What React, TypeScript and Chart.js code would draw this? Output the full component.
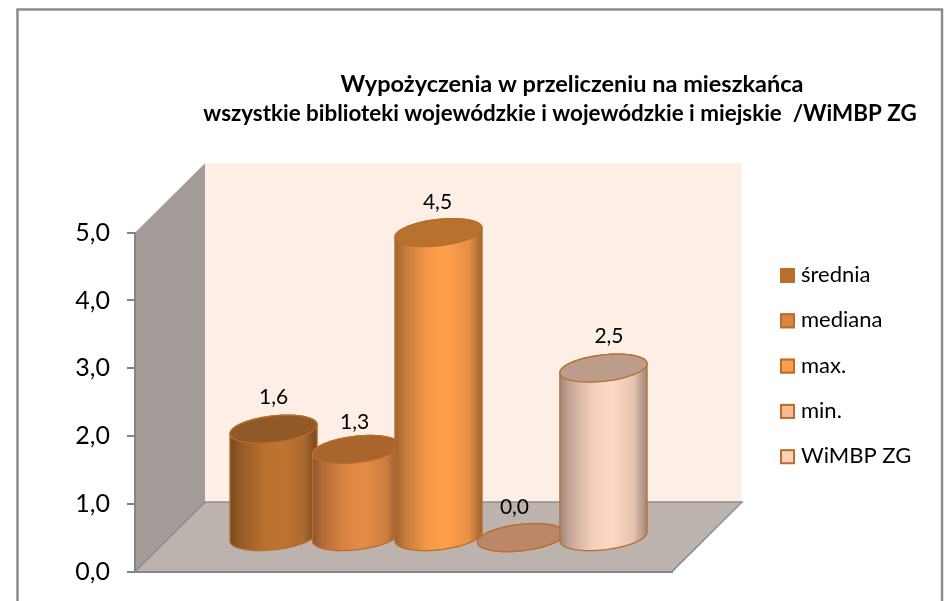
import React, { useEffect, useRef } from "react";
import { Chart, registerables } from "chart.js";

Chart.register(...registerables);

const categories = [""];
const seriesNames = ["średnia", "mediana", "max.", "min.", "WiMBP ZG"];
const seriesValues = [1.6, 1.3, 4.5, 0.0, 2.5];
const titleLines = [
  "Wypożyczenia w przeliczeniu na mieszkańca",
  "wszystkie biblioteki wojewódzkie i wojewódzkie i miejskie  /WiMBP ZG",
];

const bodyColors = ["#c07431", "#e58b46", "#ff9f4b", "#fbb893", "#ffd8c4"];
const topColors = ["#8f5a28", "#aa652d", "#b8722f", "#bc8768", "#bc9d8c"];
const legendColors = ["#b96d2e", "#dc8441", "#ff9e4a", "#fbb893", "#fdd0b7"];
const labelNudgeX = [0, -1.5, -1, -6.5, 5.5];
const labelNudgeY = [-32, -27, -30, -30, -32];
const titleSizes = [23.5, 22.4];
const edgeColor = "#b96d2e";
const axisColor = "#868686";
const FONT = "Lato";

const DEPTH_X = 70;
const DEPTH_Y = 69.5;
const BAR_DX = 35;
const BAR_DY = 34;
const ELLIPSE_K = 14;

function shade(hex: string, f: number) {
  const n = parseInt(hex.slice(1), 16);
  const c = [(n >> 16) & 255, (n >> 8) & 255, n & 255].map((v) => Math.round(v * f));
  return `rgb(${c[0]},${c[1]},${c[2]})`;
}

function cylinder(ctx: CanvasRenderingContext2D, cx: number, topY: number, baseY: number, r: number, i: number) {
  const k = ELLIPSE_K;
  const E = Math.sqrt(r * r + k * k);
  const t0 = Math.atan2(k, r);
  const px = (c: number, t: number) => c + r * Math.cos(t) + k * Math.sin(t);
  const py = (c: number, t: number) => c - k * Math.sin(t);
  const body = bodyColors[i];
  ctx.beginPath();
  ctx.moveTo(px(cx, t0 + Math.PI), py(topY, t0 + Math.PI));
  for (let s = 0; s <= 48; s++) {
    const t = t0 + Math.PI + (Math.PI * s) / 48;
    ctx.lineTo(px(cx, t), py(baseY, t));
  }
  for (let s = 0; s <= 48; s++) {
    const t = t0 + (Math.PI * s) / 48;
    ctx.lineTo(px(cx, t), py(topY, t));
  }
  ctx.closePath();
  const g = ctx.createLinearGradient(cx - E, 0, cx + E, 0);
  g.addColorStop(0, shade(body, 0.62));
  g.addColorStop(0.12, shade(body, 0.78));
  g.addColorStop(0.38, shade(body, 0.96));
  g.addColorStop(0.6, shade(body, 1));
  g.addColorStop(0.85, shade(body, 0.9));
  g.addColorStop(1, shade(body, 0.62));
  ctx.fillStyle = g;
  ctx.fill();
  ctx.lineWidth = 1.3;
  ctx.strokeStyle = edgeColor;
  ctx.stroke();
  ctx.beginPath();
  for (let s = 0; s <= 96; s++) {
    const t = (2 * Math.PI * s) / 96;
    if (s === 0) ctx.moveTo(px(cx, t), py(topY, t));
    else ctx.lineTo(px(cx, t), py(topY, t));
  }
  ctx.closePath();
  ctx.fillStyle = topColors[i];
  ctx.fill();
  ctx.stroke();
}

const scene = {
  id: "scene",
  beforeDraw(chart: any) {
    const { ctx, scales } = chart;
    const l = scales.x.left, r = scales.x.right;
    const t = scales.y.top, b = scales.y.bottom;
    ctx.save();
    ctx.fillStyle = "#ffffff";
    ctx.fillRect(0, 0, chart.width, chart.height);
    ctx.strokeStyle = "#8c8c8c";
    ctx.lineWidth = 2.5;
    ctx.strokeRect(17.5, 9.5, 924.5, 640);

    ctx.fillStyle = "#fdeee6";
    ctx.fillRect(l + DEPTH_X, t - DEPTH_Y, r - l, b - t);

    ctx.fillStyle = "#a39b97";
    ctx.beginPath();
    ctx.moveTo(l, t);
    ctx.lineTo(l + DEPTH_X, t - DEPTH_Y);
    ctx.lineTo(l + DEPTH_X, b - DEPTH_Y);
    ctx.lineTo(l, b);
    ctx.closePath();
    ctx.fill();

    ctx.fillStyle = "#bcb3ae";
    ctx.beginPath();
    ctx.moveTo(l, b);
    ctx.lineTo(l + DEPTH_X, b - DEPTH_Y);
    ctx.lineTo(r + DEPTH_X, b - DEPTH_Y);
    ctx.lineTo(r, b);
    ctx.closePath();
    ctx.fill();
    ctx.strokeStyle = "#8f8f8f";
    ctx.lineWidth = 1.5;
    ctx.beginPath();
    ctx.moveTo(l, b);
    ctx.lineTo(l + DEPTH_X, b - DEPTH_Y);
    ctx.lineTo(r + DEPTH_X, b - DEPTH_Y);
    ctx.lineTo(r, b);
    ctx.stroke();
    ctx.restore();
  },
  beforeDatasetsDraw(chart: any) {
    const { ctx } = chart;
    ctx.save();
    seriesNames.forEach((_, i) => {
      const el = chart.getDatasetMeta(i).data[0];
      cylinder(ctx, el.x + BAR_DX, el.y - BAR_DY, el.base - BAR_DY, el.width / 2, i);
    });
    ctx.fillStyle = "#000000";
    ctx.font = `21px ${FONT}`;
    ctx.textAlign = "center";
    ctx.textBaseline = "middle";
    seriesNames.forEach((_, i) => {
      const el = chart.getDatasetMeta(i).data[0];
      ctx.fillText(seriesValues[i].toFixed(1).replace(".", ","), el.x + BAR_DX + labelNudgeX[i], el.y - BAR_DY + labelNudgeY[i]);
    });
    ctx.restore();
  },
  beforeDatasetDraw() {
    return false;
  },
  afterDraw(chart: any) {
    const { ctx } = chart;
    ctx.save();
    ctx.fillStyle = "#000000";
    ctx.textBaseline = "middle";
    ctx.textAlign = "center";
    ctx.font = `700 ${titleSizes[0]}px ${FONT}`;
    ctx.fillText(titleLines[0], 572, 84);
    ctx.font = `700 ${titleSizes[1]}px ${FONT}`;
    ctx.fillText(titleLines[1], 560, 114);
    ctx.textAlign = "left";
    ctx.font = `22px ${FONT}`;
    seriesNames.forEach((name, i) => {
      const y = 275 + i * 45.3;
      ctx.fillStyle = legendColors[i];
      ctx.fillRect(780, y - 7, 15, 15);
      ctx.strokeStyle = edgeColor;
      ctx.lineWidth = 2;
      ctx.strokeRect(781, y - 6, 13, 13);
      ctx.fillStyle = "#000000";
      ctx.fillText(name, 801, y);
    });
    ctx.restore();
  },
};

export default function App() {
  const ref = useRef<HTMLCanvasElement>(null);
  useEffect(() => {
    const chart = new Chart(ref.current!, {
      type: "bar",
      data: {
        labels: categories,
        datasets: seriesNames.map((name, i) => ({
          label: name,
          data: [seriesValues[i]],
          backgroundColor: bodyColors[i],
          borderColor: edgeColor,
        })),
      },
      plugins: [scene],
      options: {
        responsive: false,
        animation: false,
        events: [],
        datasets: { bar: { categoryPercentage: 0.768, barPercentage: 1 } },
        layout: { padding: { left: 75, right: 272, top: 232.7, bottom: 29.4 } },
        plugins: { legend: { display: false }, title: { display: false }, tooltip: { enabled: false } },
        scales: {
          x: {
            afterFit: (s: any) => { s.height = 0; },
            grid: { display: false },
            ticks: { display: false },
            border: { color: axisColor, width: 2 },
          },
          y: {
            min: 0,
            max: 5,
            afterFit: (s: any) => { s.width = 60; s.paddingTop = 0; s.paddingBottom = 0; },
            grid: { drawOnChartArea: false, drawTicks: true, tickLength: 8, tickColor: axisColor, lineWidth: 2 },
            border: { color: axisColor, width: 2 },
            ticks: {
              stepSize: 1,
              padding: 17,
              color: "#000000",
              font: { family: FONT, size: 25 },
              callback: (v: any) => Number(v).toFixed(1).replace(".", ","),
            },
          },
        },
      } as any,
    });
    return () => chart.destroy();
  }, []);
  return (
    <div style={{ position: "fixed", left: 0, top: 0, width: 944, height: 601 }}>
      <canvas ref={ref} width={944} height={601} style={{ display: "block" }} />
    </div>
  );
}
